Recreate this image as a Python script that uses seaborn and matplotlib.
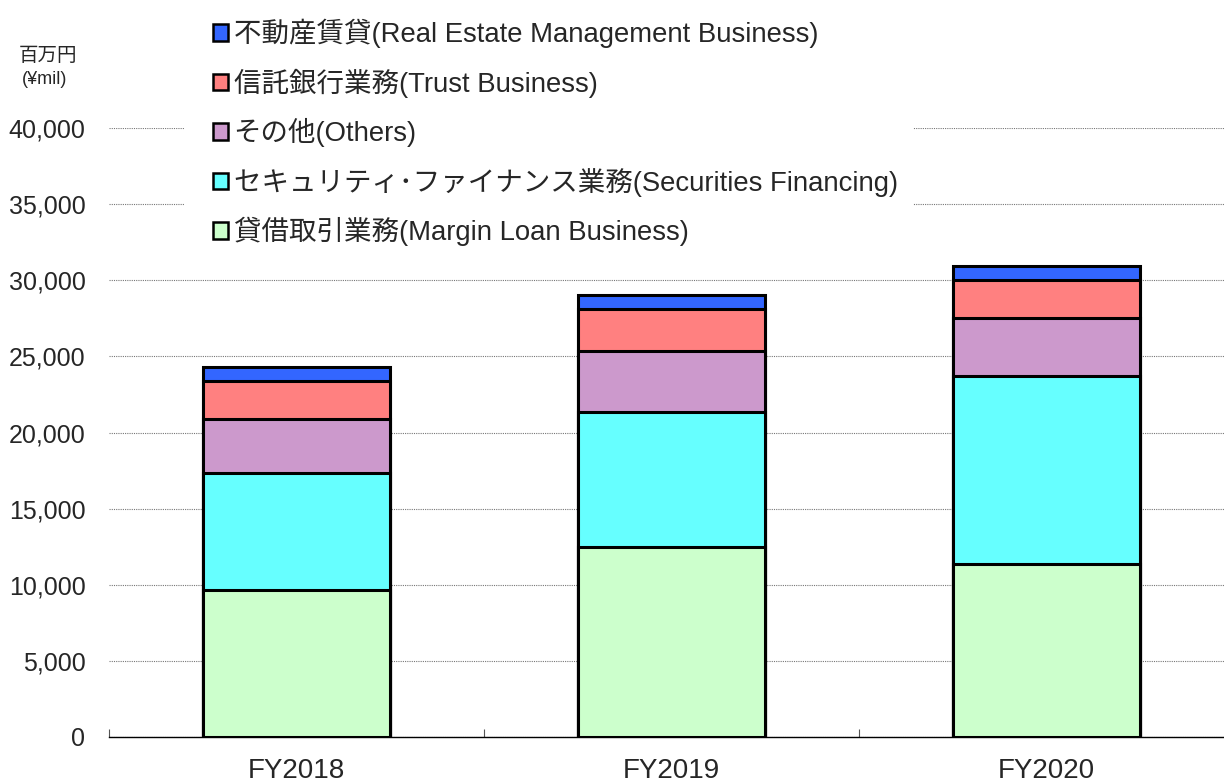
import seaborn as sns
import numpy as np
import pandas as pd
import matplotlib.pyplot as plt
from matplotlib.patches import Patch, Rectangle

# values in million yen
years = ['FY2018', 'FY2019', 'FY2020']
margin_loan = [9650, 12500, 11340]
securities_fin = [7690, 8830, 12350]
others = [3550, 4020, 3810]
trust = [2490, 2780, 2500]
real_estate = [920, 920, 935]

labels = ['貸借取引業務(Margin Loan Business)',
          'セキュリティ･ファイナンス業務(Securities Financing)',
          'その他(Others)',
          '信託銀行業務(Trust Business)',
          '不動産賃貸(Real Estate Management Business)']
colors = ['#CCFFCC', '#66FFFF', '#CC99CC', '#FF8080', '#3366FF']

sns.set_theme(style='white')
plt.rcParams['font.family'] = ['Liberation Sans', 'Noto Sans CJK JP', 'DejaVu Sans']

df = pd.DataFrame({'year': years, 'g': margin_loan, 'c': securities_fin,
                   'p': others, 'r': trust, 'b': real_estate})
cum = df[['g', 'c', 'p', 'r', 'b']].cumsum(axis=1)

fig = plt.figure(figsize=(12.24, 7.84), dpi=100)
ax = fig.add_axes([109/1224, 1-737/784, 1125/1224, (737-128)/784])

# draw cumulative totals from the top down so each layer sits on the one below
for col, colr in zip(['b', 'r', 'p', 'c', 'g'], colors[::-1]):
    sns.barplot(x=df['year'], y=cum[col], color=colr, width=0.5,
                edgecolor='black', linewidth=2.2, saturation=1, ax=ax, zorder=3)

ax.set_ylim(0, 40000)
ax.set_xlim(-0.5, 2.5)
ax.set_yticks(np.arange(0, 40001, 5000))
ax.set_yticklabels([f'{v:,}' for v in range(0, 40001, 5000)], fontsize=18)
ax.yaxis.grid(True, color='#777777', linestyle=(0, (1, 1)), linewidth=0.8, zorder=0)
ax.set_axisbelow(True)
ax.set_xlabel('')
ax.set_ylabel('')
ax.tick_params(axis='y', length=0, pad=17)
ax.tick_params(axis='x', length=0, labelsize=20, pad=15)
ax.set_xticks([-0.5, 0.5, 1.5, 2.5], minor=True)
ax.tick_params(axis='x', which='minor', bottom=True, direction='in', length=6,
               color='#555555', width=0.8)
for s in ['top', 'right', 'left']:
    ax.spines[s].set_visible(False)
ax.spines['bottom'].set_color('black')
ax.spines['bottom'].set_linewidth(1)

fig.text(48/1224, 1-56/784, '百万円', fontsize=14, ha='center', va='center')
fig.text(45/1224, 1-80/784, '(¥mil)', fontsize=13, ha='center', va='center')

# white block behind the legend hides the gridlines it sits on
fig.patches.append(Rectangle((185/1224, 1-250/784), (913-185)/1224, 250/784,
                             transform=fig.transFigure, facecolor='white',
                             edgecolor='none', zorder=1))

handles = [Patch(facecolor=c, edgecolor='black', linewidth=1.8, label=l)
           for c, l in zip(colors[::-1], labels[::-1])]
leg = fig.legend(handles=handles, loc='upper left', bbox_to_anchor=(213/1224, 1-19/784),
                 fontsize=19.8, frameon=False, borderpad=0, borderaxespad=0,
                 handlelength=0.55, handleheight=0.55, handletextpad=0.2,
                 labelspacing=0.74)
leg.set_zorder(2)

plt.savefig('out.png', dpi=100)
